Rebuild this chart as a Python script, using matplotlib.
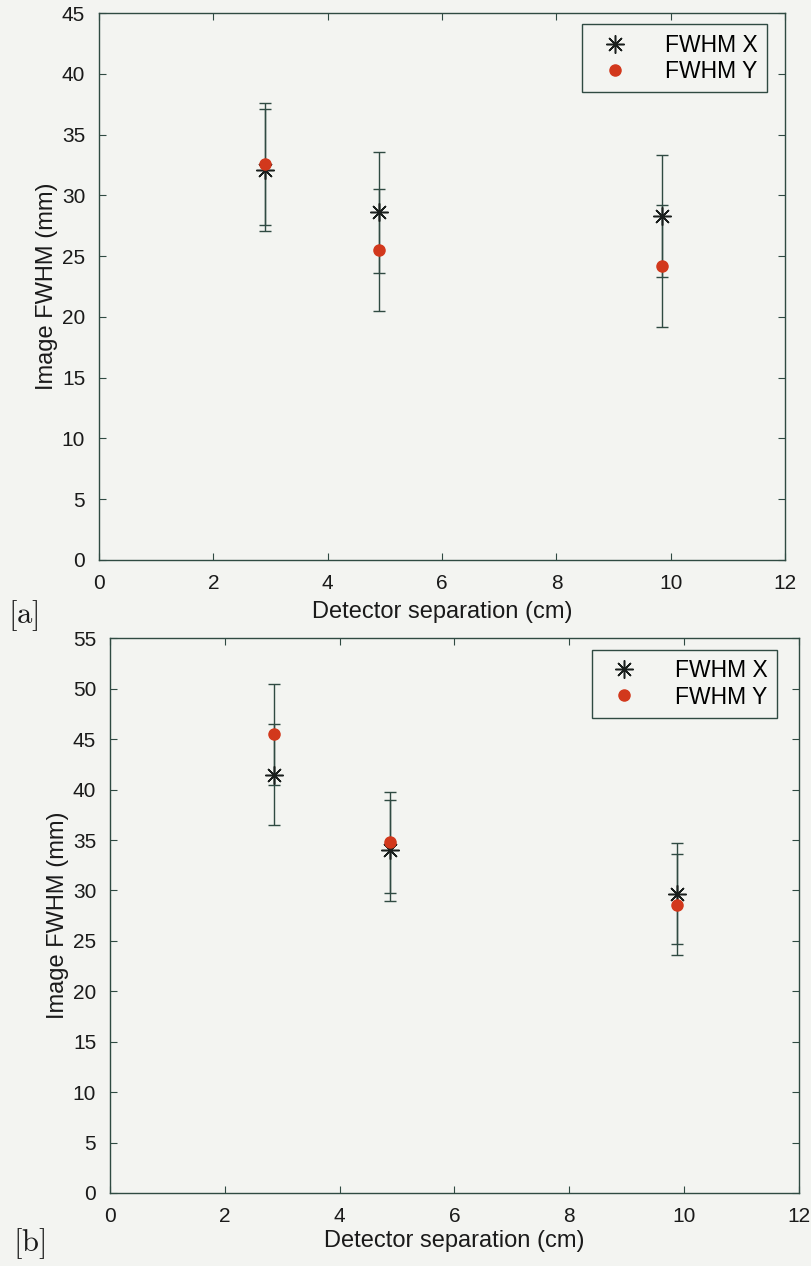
import matplotlib
matplotlib.use('Agg')
import matplotlib.pyplot as plt

# data (separation in cm, FWHM in mm)
sep_a = [2.9, 4.9, 9.85]
fwhm_x_a = [32.1, 28.6, 28.3]
fwhm_y_a = [32.6, 25.5, 24.2]
err_a = [5, 5, 5]

sep_b = [2.85, 4.88, 9.88]
fwhm_x_b = [41.5, 34.0, 29.7]
fwhm_y_b = [45.5, 34.8, 28.6]
err_b = [5, 5, 5]

line_col = '#2f4a42'
red = '#d2381c'
bg = '#f3f4f1'

plt.rcParams['font.family'] = ['Liberation Sans', 'DejaVu Sans']
plt.rcParams['mathtext.fontset'] = 'cm'

fig = plt.figure(figsize=(8.12, 12.66), dpi=100, facecolor=bg)
ax1 = fig.add_axes([0.122, 0.5577, 0.845, 0.432])
ax2 = fig.add_axes([0.1355, 0.0577, 0.848, 0.438])


def panel(ax, x, fx, fy, err, ymax, xlabpad, leg_anchor):
    ax.set_facecolor(bg)
    ax.errorbar(x, fx, yerr=err, fmt='none', ecolor=line_col, elinewidth=1.0,
                capsize=4, capthick=1.0)
    ax.errorbar(x, fy, yerr=err, fmt='none', ecolor=line_col, elinewidth=1.0,
                capsize=4, capthick=1.0)
    ax.plot(x, fx, linestyle='none', marker=(8, 2, 0), markersize=13,
            markeredgewidth=1.1, color='#1a1f1d', label='FWHM X')
    ax.plot(x, fy, linestyle='none', marker='o', markersize=8,
            color=red, markeredgecolor=red, label='FWHM Y')
    ax.set_xlim(0, 12)
    ax.set_ylim(0, ymax)
    ax.set_xticks(range(0, 13, 2))
    ax.set_yticks(range(0, ymax + 1, 5))
    ax.tick_params(direction='in', top=True, right=True, length=5,
                   color=line_col, labelsize=15, labelcolor='#1a1a1a', pad=10)
    for s in ax.spines.values():
        s.set_color(line_col)
        s.set_linewidth(1.0)
    ax.set_xlabel('Detector separation (cm)', fontsize=17, color='#1a1a1a',
                  labelpad=xlabpad)
    ax.set_ylabel('Image FWHM (mm)', fontsize=17, color='#1a1a1a', labelpad=3)
    leg = ax.legend(loc='upper right', fontsize=16.5, frameon=True,
                    fancybox=False, edgecolor=line_col, facecolor=bg,
                    framealpha=1, handletextpad=1.2, borderpad=0.4,
                    labelspacing=0.15, bbox_to_anchor=leg_anchor)
    leg.get_frame().set_linewidth(1.0)


panel(ax1, sep_a, fwhm_x_a, fwhm_y_a, err_a, 45, 6, (0.99, 1.0))
panel(ax2, sep_b, fwhm_x_b, fwhm_y_b, err_b, 55, 3, (0.985, 1.0))

fig.text(0.010, 0.514, r'$[\mathrm{a}]$', fontsize=22, va='center',
         color='#1a1a1a')
fig.text(0.016, 0.018, r'$[\mathrm{b}]$', fontsize=22, va='center',
         color='#1a1a1a')

fig.savefig('out.png', dpi=100, facecolor=bg)
